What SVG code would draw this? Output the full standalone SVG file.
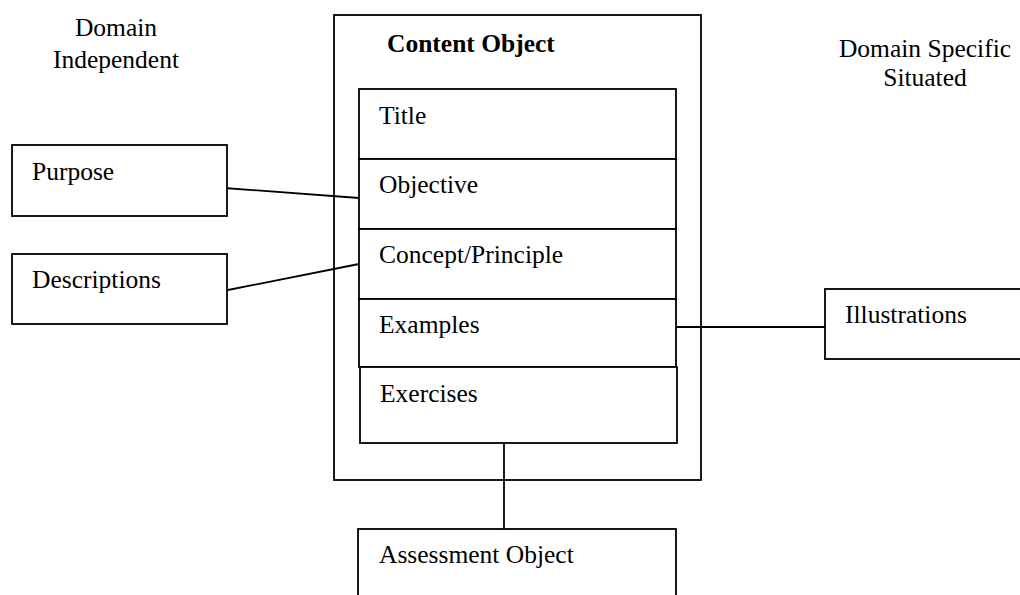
<svg xmlns="http://www.w3.org/2000/svg" width="1020" height="595" viewBox="0 0 1020 595">
<style>
.box{fill:#fff;stroke:#000;stroke-width:1.8}
.ln{stroke:#000;stroke-width:1.8;fill:none}
text{font-family:"Liberation Serif","Times New Roman",serif;font-size:25.5px;fill:#000}
.b{font-weight:bold}
.c{text-anchor:middle}
</style>
<rect width="1020" height="595" fill="#fff"/>
<g id="label-domain-independent"><text class="c" x="116" y="36">Domain</text><text class="c" x="116" y="68">Independent</text></g>
<g id="label-domain-specific"><text class="c" x="925" y="57">Domain Specific</text><text class="c" x="925" y="86">Situated</text></g>
<g id="content-object"><rect class="box" x="334" y="15" width="367" height="465"/><text class="b" x="387" y="52">Content Object</text></g>
<g id="connectors">
<line class="ln" x1="224" y1="188" x2="359" y2="198"/>
<line class="ln" x1="228" y1="290" x2="359" y2="264"/>
<line class="ln" x1="676" y1="327" x2="825" y2="327"/>
<line class="ln" x1="504" y1="443" x2="504" y2="529"/>
</g>
<g id="title"><rect class="box" x="359" y="89" width="317" height="70"/><text x="379" y="124">Title</text></g>
<g id="objective"><rect class="box" x="359" y="159" width="317" height="70"/><text x="379" y="193">Objective</text></g>
<g id="concept"><rect class="box" x="359" y="229" width="317" height="70"/><text x="379" y="263">Concept/Principle</text></g>
<g id="examples"><rect class="box" x="359" y="299" width="317" height="68"/><text x="379" y="333">Examples</text></g>
<g id="exercises"><rect class="box" x="360" y="367" width="317" height="76"/><text x="380" y="402">Exercises</text></g>
<g id="purpose"><rect class="box" x="12" y="145" width="215" height="71"/><text x="32" y="180">Purpose</text></g>
<g id="descriptions"><rect class="box" x="12" y="254" width="215" height="70"/><text x="32" y="288">Descriptions</text></g>
<g id="illustrations"><rect class="box" x="825" y="289" width="205" height="70"/><text x="845" y="323">Illustrations</text></g>
<g id="assessment"><rect class="box" x="358" y="529" width="318" height="80"/><text x="379" y="563">Assessment Object</text></g>
</svg>
